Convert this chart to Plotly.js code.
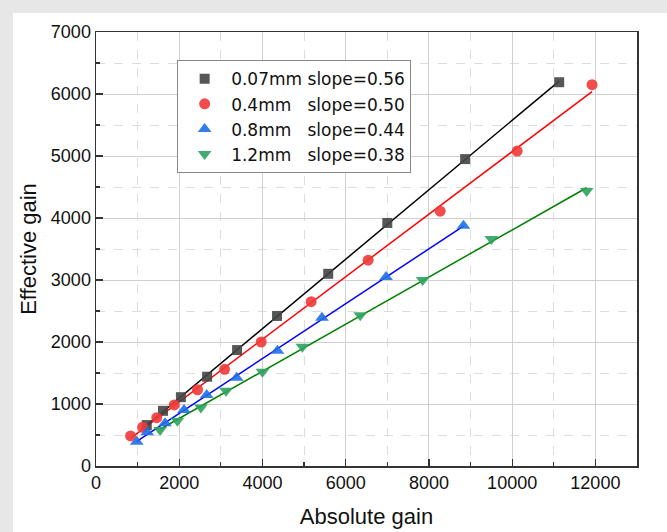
<!DOCTYPE html>
<html>
<head>
<meta charset="utf-8">
<script src="https://cdn.plot.ly/plotly-3.0.1.min.js"></script>
<style>
  html, body { margin: 0; padding: 0; width: 667px; height: 532px; overflow: hidden;
    background: #e7e7e7; }
  #chart { position: absolute; left: 13px; top: 13px; width: 654px; height: 519px; }
</style>
</head>
<body>
<div id="chart"></div>
<script>
// 0.07mm
const x007 = [1220, 1610, 2040, 2670, 3390, 4350, 5580, 7000, 8870, 11130];
const y007 = [660, 890, 1110, 1440, 1870, 2420, 3100, 3920, 4950, 6190];
// 0.4mm
const x04 = [830, 1120, 1460, 1880, 2440, 3090, 3970, 5170, 6540, 8270, 10120, 11920];
const y04 = [485, 625, 780, 985, 1230, 1560, 2000, 2650, 3320, 4110, 5080, 6150];
// 0.8mm
const x08 = [980, 1230, 1660, 2115, 2660, 3380, 4360, 5430, 6970, 8830];
const y08 = [390, 545, 690, 905, 1145, 1425, 1860, 2390, 3050, 3875];
// 1.2mm
const x12 = [1540, 1955, 2520, 3125, 4000, 4960, 6350, 7850, 9500, 11790];
const y12 = [580, 730, 945, 1215, 1520, 1925, 2430, 3000, 3660, 4435];

const names = ['0.07mm slope=0.56', '0.4mm\u00a0\u00a0\u00a0slope=0.50', '0.8mm\u00a0\u00a0\u00a0slope=0.44', '1.2mm\u00a0\u00a0\u00a0slope=0.38'];
const xs = [x007, x04, x08, x12];
const ys = [y007, y04, y08, y12];
const markerColors = ['#454545', '#f03a3a', '#1f6fe6', '#2ea35e'];
const lineColors = ['#000000', '#ff0000', '#0000ff', '#008000'];
const symbols = ['square', 'circle', 'triangle-up', 'triangle-down'];
const sizes = [10, 11, 12, 12];

function fit(x, y) {
  const n = x.length;
  const mx = x.reduce((a, b) => a + b, 0) / n;
  const my = y.reduce((a, b) => a + b, 0) / n;
  let sxy = 0, sxx = 0;
  for (let i = 0; i < n; i++) { sxy += (x[i] - mx) * (y[i] - my); sxx += (x[i] - mx) ** 2; }
  const k = sxy / sxx, b = my - k * mx;
  const x0 = Math.min(...x), x1 = Math.max(...x);
  return { x: [x0, x1], y: [k * x0 + b, k * x1 + b] };
}

const traces = [];
for (let i = 0; i < 4; i++) {
  const f = fit(xs[i], ys[i]);
  traces.push({ x: f.x, y: f.y, mode: 'lines', type: 'scatter', showlegend: false,
    line: { color: lineColors[i], width: 1.5 }, hoverinfo: 'skip' });
}
for (let i = 0; i < 4; i++) {
  traces.push({ x: xs[i], y: ys[i], mode: 'markers', type: 'scatter', name: names[i],
    marker: { symbol: symbols[i], size: sizes[i], color: markerColors[i], opacity: 0.9 } });
}

const FONT = 'Liberation Sans, Arial, sans-serif';
const axisCommon = {
  showline: true, linecolor: '#333', linewidth: 1.5, mirror: true,
  ticks: 'inside', ticklen: 7, tickwidth: 1.2, tickcolor: '#333',
  showgrid: true, gridcolor: '#d0d0d0', gridwidth: 1,
  zeroline: false, exponentformat: 'none', separatethousands: false, tickformat: 'd',
  tickfont: { family: FONT, size: 18, color: '#111' },
};

const layout = {
  width: 654, height: 519,
  paper_bgcolor: '#ffffff', plot_bgcolor: '#ffffff',
  margin: { l: 83, r: 30, t: 19, b: 66 },
  font: { family: FONT, color: '#111' },
  xaxis: Object.assign({}, axisCommon, {
    range: [0, 13000], dtick: 2000, tick0: 0,
    minor: { dtick: 1000, ticks: 'inside', ticklen: 4, tickcolor: '#333', showgrid: true, gridcolor: '#dddddd', griddash: 'dash', gridwidth: 1 },
    title: { text: 'Absolute gain', font: { family: FONT, size: 22, color: '#111' }, standoff: 16 }
  }),
  yaxis: Object.assign({}, axisCommon, {
    range: [0, 7000], dtick: 1000, tick0: 0,
    minor: { dtick: 500, ticks: 'inside', ticklen: 4, tickcolor: '#333', showgrid: true, gridcolor: '#dddddd', griddash: 'dash', gridwidth: 1 },
    title: { text: 'Effective gain', font: { family: FONT, size: 22, color: '#111' }, standoff: 8 }
  }),
  legend: {
    x: 0.15, y: 0.935, xanchor: 'left', yanchor: 'top',
    bgcolor: '#ffffff', bordercolor: '#888', borderwidth: 1, itemwidth: 43,
    font: { family: 'DejaVu Sans, sans-serif', size: 17, color: '#111' }
  },
  showlegend: true
};

Plotly.newPlot('chart', traces, layout, { displayModeBar: false, staticPlot: true });
</script>
</body>
</html>
